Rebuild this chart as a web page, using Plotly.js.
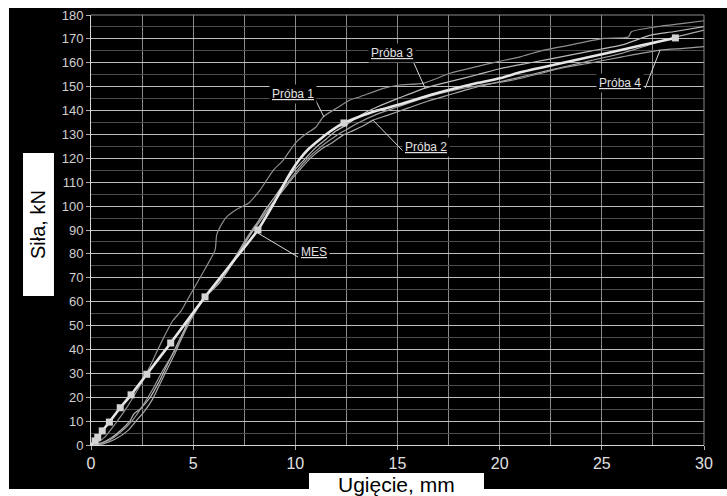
<!DOCTYPE html>
<html>
<head>
<meta charset="utf-8">
<script src="https://cdn.plot.ly/plotly-3.0.1.min.js"></script>
<style>html,body{margin:0;padding:0;background:#fff;}#chart{width:727px;height:496px;}</style>
</head>
<body>
<div id="chart"></div>
<script>
// ---- data ----
const proba1X = [0,0.3,0.7,1.2,1.7,2.2,2.6,3.0,3.5,4.0,4.4,4.8,5.2,5.6,6.07,6.15,6.3,6.64,7.1,7.7,8.27,8.92,9.41,9.99,10.56,11.0,11.37,12.02,12.68,13.17,14.3,15.12,16.25,17.57,18.88,19.87,21.0,22.16,23.5,25.1,26.3,26.45,27.7,29.0,30.0];
const proba1Y = [0,1,3.5,9,15,22,28,35,44,52,56,62,68,74,81.6,88,91,95.5,98.5,101.2,106.7,115,119.3,126.3,130.5,133,137.4,141,144.4,145.8,149.3,150.7,151.4,155.6,158.4,160.4,162.5,165.3,167.5,170.2,170.8,173,175.1,176.5,177.6];

const proba2X = [0,0.6,1.2,1.8,2.2,2.6,3.0,3.4,3.8,4.2,4.6,5.0,5.4,5.8,6.2,6.8,7.3,7.8,8.3,8.8,9.3,9.8,10.3,10.8,11.3,11.8,12.3,12.8,13.3,13.8,14.5,15.5,16.5,17.5,18.5,20.0,21.5,23.0,24.5,26.0,27.5,28.5,30.0];
const proba2Y = [0,0.5,2.5,6,10,14,19,26,33,40,48,55,60,64,68,75,81,88,94,100,105.5,111,116,120.5,124,126.5,129.5,131.5,133.5,136,138,141,144,146.5,149,152,155,158,161,164,168,170.5,173.7];

const proba3X = [0,0.5,1.0,1.5,1.9,2.1,2.4,2.9,3.3,3.7,4.1,4.5,4.9,5.3,5.7,6.2,6.7,7.2,7.6,8.0,8.5,9.0,9.5,10.0,10.5,11.0,11.5,12.0,12.5,13.0,13.5,14.0,15.0,16.35,17.5,18.9,20.0,21.5,23.0,24.5,26.0,27.4,28.5,30.0];
const proba3Y = [0,0.8,3,6.5,10,13,15,20,26,33,40,47,54,59,63,67,73,80,86,91,98,104,110,115.5,120,124.5,128,131.5,134,137,139.5,141.5,145,149.4,152,155,157.5,160,162.5,165,167.5,171.6,173,175.1];

const proba4X = [0,0.4,0.9,1.4,2.0,2.5,3.0,3.5,4.0,4.4,4.8,5.2,5.6,6.0,6.5,7.0,7.5,8.0,8.5,9.0,9.5,10.0,10.5,11.0,11.5,12.0,12.5,13.0,14.0,15.0,16.0,17.0,18.0,19.0,20.5,22.0,23.0,24.5,26.0,27.85,29.0,30.0];
const proba4Y = [0,0.6,2,5,10,16,23,31,38,44,51,57,62,66,72,78,85,91.5,97,102.5,108.5,114,119,123,126.5,129.5,132,134.5,138.5,141.5,144.5,147,149,150.5,152.5,155.5,157.7,160,162.5,165.3,166,166.8];

const mesX = [0,0.2,0.33,0.55,0.9,1.43,1.96,2.73,3.9,5.58,7.0,8.17,8.6,9.0,9.4,9.8,10.2,10.6,11.0,11.5,12.0,12.38,13.0,14.0,15.0,16.6,18.9,20.0,21.0,23.0,25.0,27.0,28.6];
const mesY = [0,1.7,3.2,5.9,9.6,15.6,21,29.6,42.7,62,77.3,90,96,102,108.5,114.5,119.5,123.5,126.5,130,133,134.8,137,140,142.3,146.5,151.5,153.5,156,159.8,163.6,167.4,170.4];

const mesNodeX = [0.2,0.33,0.55,0.9,1.43,1.96,2.73,3.9,5.58,8.17,12.38,28.6];
const mesNodeY = [1.7,3.2,5.9,9.6,15.6,21,29.6,42.7,62,90,134.8,170.4];

const seriesNames = ['Próba 1','Próba 2','Próba 3','Próba 4','MES'];
const xTickVals = [0,5,10,15,20,25,30];
const yTickVals = [0,10,20,30,40,50,60,70,80,90,100,110,120,130,140,150,160,170,180];
const xTitle = 'Ugięcie, mm';
const yTitle = 'Siła, kN';

// ---- chart ----
const font = 'Liberation Sans, Arial, sans-serif';
const expColors = ['#8e8e8e','#a8a8a8','#b9b9b9','#9c9c9c'];
const expX = [proba1X, proba2X, proba3X, proba4X];
const expY = [proba1Y, proba2Y, proba3Y, proba4Y];

const traces = expX.map((xs, i) => ({
  x: xs, y: expY[i], name: seriesNames[i], type: 'scatter', mode: 'lines',
  line: {color: expColors[i], width: 1.2, shape: 'spline', smoothing: 0.6},
  hoverinfo: 'x+y+name'
}));
traces.push({
  x: mesX, y: mesY, name: seriesNames[4], type: 'scatter', mode: 'lines',
  line: {color: '#e6e6e6', width: 2.6, shape: 'spline', smoothing: 0.5}
});
traces.push({
  x: mesNodeX, y: mesNodeY, name: seriesNames[4] + ' nodes', type: 'scatter', mode: 'markers',
  marker: {symbol: 'square', size: 7, color: '#d4d4d4'}, showlegend: false
});

const labelFont = {family: font, size: 12, color: '#e2e2e2'};
function lab(text, x, y) {
  return {text: '<u>' + text + '</u>', x: x, y: y, xref: 'x', yref: 'y', showarrow: false,
          font: labelFont, bgcolor: '#000', borderpad: 2, xanchor: 'center', yanchor: 'middle'};
}
function leader(pts) {
  return {type: 'path', xref: 'x', yref: 'y', layer: 'above',
          path: 'M' + pts.map(p => p[0] + ',' + p[1]).join(' L'),
          line: {color: '#d8d8d8', width: 1}};
}

const layout = {
  width: 727, height: 496,
  margin: {l: 91, r: 23, t: 15, b: 51, pad: 0},
  paper_bgcolor: '#ffffff', plot_bgcolor: '#000000',
  showlegend: false,
  font: {family: font, color: '#d0d0d0'},
  xaxis: {
    range: [0, 30], tickvals: xTickVals, ticktext: xTickVals.map(String),
    showgrid: true, gridcolor: '#8a8a8a', gridwidth: 1,
    minor: {dtick: 2.5, tick0: 0, showgrid: true, gridcolor: '#8a8a8a', gridwidth: 1},
    zeroline: false, showline: true, linecolor: '#d6d6d6', linewidth: 1,
    ticks: 'outside', ticklen: 4, tickcolor: '#b0b0b0',
    tickfont: {family: font, size: 16, color: '#e0e0e0'}, fixedrange: true
  },
  yaxis: {
    range: [0, 180], tickvals: yTickVals, ticktext: yTickVals.map(String),
    showgrid: true, gridcolor: '#bdbdbd', gridwidth: 1,
    minor: {dtick: 5, tick0: 0, showgrid: true, gridcolor: '#4c4c4c', gridwidth: 1},
    zeroline: false, showline: true, linecolor: '#d6d6d6', linewidth: 1,
    ticks: 'outside', ticklen: 4, tickcolor: '#b0b0b0',
    tickfont: {family: font, size: 13, color: '#d0d0d0'}, fixedrange: true
  },
  shapes: [
    {type: 'rect', xref: 'paper', yref: 'paper', layer: 'below',
     x0: -0.1338, x1: 1.06, y0: -0.1023, y1: 1.0163, fillcolor: '#000', line: {width: 0}},
    {type: 'rect', xref: 'paper', yref: 'paper', layer: 'below',
     x0: -0.1109, x1: -0.0604, y0: 0.3465, y1: 0.679, fillcolor: '#fff', line: {width: 0}},
    {type: 'rect', xref: 'paper', yref: 'paper', layer: 'below',
     x0: 0.3556, x1: 0.6411, y0: -0.14, y1: -0.0651, fillcolor: '#fff', line: {width: 0}},
    {type: 'line', xref: 'paper', yref: 'paper', layer: 'above', x0: 0, x1: 1, y0: 1, y1: 1,
     line: {color: '#8a8a8a', width: 1}},
    {type: 'line', xref: 'paper', yref: 'paper', layer: 'above', x0: 1, x1: 1, y0: 0, y1: 1,
     line: {color: '#8a8a8a', width: 1}},
    leader([[10.96,144.9],[11.4,137.3]]),
    leader([[15.76,160.7],[16.35,149.4]]),
    leader([[15.37,122.2],[13.8,136]]),
    leader([[27.12,149.4],[27.85,165.3]]),
    leader([[10.13,78.7],[8.17,88.7]])
  ],
  annotations: [
    lab(seriesNames[0], 9.87, 146.8),
    lab(seriesNames[2], 14.73, 164.0),
    lab(seriesNames[1], 16.4, 124.9),
    lab(seriesNames[3], 25.89, 151.4),
    lab(seriesNames[4], 10.92, 80.8),
    {text: yTitle, xref: 'paper', yref: 'paper', x: -0.0856, y: 0.5128, textangle: -90,
     showarrow: false, xanchor: 'center', yanchor: 'middle',
     font: {family: font, size: 20, color: '#000'}},
    {text: xTitle, xref: 'paper', yref: 'paper', x: 0.4976, y: -0.0907,
     showarrow: false, xanchor: 'center', yanchor: 'middle',
     font: {family: font, size: 21, color: '#000'}}
  ]
};

Plotly.newPlot('chart', traces, layout, {displayModeBar: false, staticPlot: true});
</script>
</body>
</html>
